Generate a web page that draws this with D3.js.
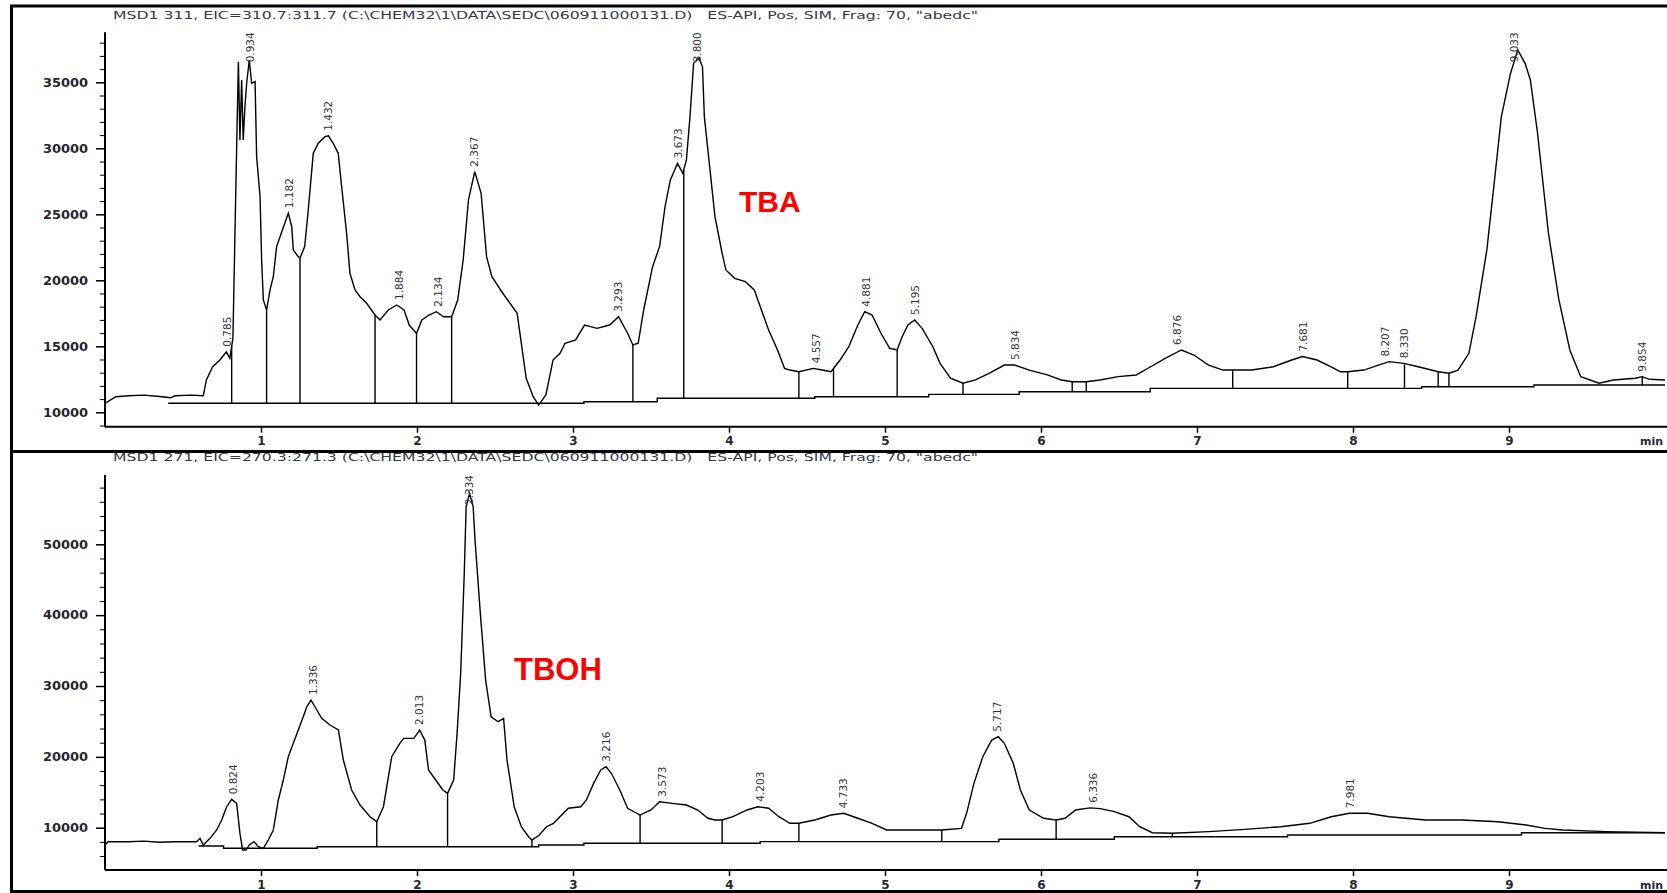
<!DOCTYPE html>
<html><head><meta charset="utf-8">
<script src="https://cdn.jsdelivr.net/npm/d3@7"></script>
<style>body{margin:0;background:#fff}svg{display:block}</style>
</head><body>
<svg id="c" width="1667" height="893"></svg>
<script>
// ---------------- DATA ----------------
const xTickValues = [1, 2, 3, 4, 5, 6, 7, 8, 9];
const xUnit = "min";

const tbaTitle = 'MSD1 311, EIC=310.7:311.7 (C:\\CHEM32\\1\\DATA\\SEDC\\060911000131.D)   ES-API, Pos, SIM, Frag: 70, "abedc"';
const tbohTitle = 'MSD1 271, EIC=270.3:271.3 (C:\\CHEM32\\1\\DATA\\SEDC\\060911000131.D)   ES-API, Pos, SIM, Frag: 70, "abedc"';
const tbaName = "TBA";
const tbohName = "TBOH";

const tbaMajorTicks = [10000, 15000, 20000, 25000, 30000, 35000];
const tbaMinorTicks = [9000,11000,12000,13000,14000,16000,17000,18000,19000,21000,22000,23000,24000,26000,27000,28000,29000,31000,32000,33000,34000,36000,37000,38000];
const tbohMajorTicks = [10000, 20000, 30000, 40000, 50000];
const tbohMinorTicks = [6000,8000,12000,14000,16000,18000,22000,24000,26000,28000,32000,34000,36000,38000,42000,44000,46000,48000,52000,54000,56000,58000];

// [time (min), abundance]
const tbaTrace = [
[0.00,10680],[0.07,11180],[0.15,11250],[0.25,11300],[0.35,11200],[0.42,11100],[0.45,11250],[0.55,11300],[0.63,11250],
[0.65,12450],[0.69,13450],[0.737,13960],[0.778,14590],[0.80,14090],[0.82,15600],[0.844,30120],[0.855,36560],[0.865,30630],
[0.876,35180],[0.886,30630],[0.897,33150],[0.908,34930],[0.925,36690],[0.94,34930],[0.962,35050],[0.972,29370],[0.994,26330],
[1.004,21540],[1.015,18510],[1.036,17750],[1.058,19270],[1.079,20270],[1.10,22550],[1.13,23560],[1.175,25080],[1.197,24060],
[1.207,22300],[1.239,21790],[1.25,21690],[1.28,22550],[1.303,25330],[1.335,29620],[1.367,30380],[1.41,30880],[1.432,30950],
[1.463,30380],[1.495,29620],[1.517,27090],[1.549,23560],[1.57,20530],[1.603,19270],[1.635,18760],[1.677,18260],[1.731,17370],
[1.763,16990],[1.816,17750],[1.87,18130],[1.917,17750],[1.95,16610],[1.997,15980],[2.031,16990],[2.077,17370],[2.124,17620],
[2.17,17240],[2.222,17240],[2.261,18510],[2.296,21540],[2.33,26090],[2.37,28230],[2.411,26590],[2.446,21790],[2.48,20270],
[2.55,19020],[2.596,18260],[2.642,17500],[2.70,12580],[2.745,11180],[2.78,10550],[2.826,11310],[2.872,13960],[2.917,14470],
[2.949,15230],[3.017,15480],[3.074,16610],[3.154,16360],[3.235,16610],[3.292,17240],[3.35,15990],[3.384,15100],[3.418,15230],
[3.453,17750],[3.51,21030],[3.555,22550],[3.59,25580],[3.624,27600],[3.67,28860],[3.704,28110],[3.727,29120],[3.75,32400],
[3.773,36440],[3.807,36820],[3.83,36190],[3.842,32400],[3.876,28610],[3.91,24820],[3.956,22050],[3.98,20780],[4.036,20150],
[4.105,19900],[4.162,19270],[4.208,17750],[4.254,16240],[4.311,14720],[4.356,13330],[4.391,13200],[4.448,13070],[4.54,13330],
[4.597,13200],[4.654,13070],[4.712,13960],[4.768,14970],[4.826,16610],[4.87,17620],[4.917,17370],[4.974,15990],[5.03,14850],
[5.078,14720],[5.11,15730],[5.147,16610],[5.19,16990],[5.238,16360],[5.307,14970],[5.353,13710],[5.42,12580],[5.50,12200],
[5.58,12450],[5.67,12960],[5.765,13580],[5.83,13580],[5.925,13200],[6.04,12830],[6.13,12450],[6.20,12320],[6.29,12320],
[6.378,12450],[6.494,12700],[6.61,12830],[6.703,13450],[6.796,14090],[6.90,14720],[6.98,14340],[7.074,13580],[7.167,13200],
[7.229,13200],[7.35,13200],[7.49,13450],[7.607,13960],[7.676,14220],[7.77,13960],[7.86,13450],[7.92,13070],[7.966,13070],
[8.07,13200],[8.163,13580],[8.232,13840],[8.325,13710],[8.418,13450],[8.546,13070],[8.615,12960],[8.673,13200],[8.743,14470],
[8.789,17240],[8.858,22300],[8.905,27350],[8.951,32400],[9.01,35690],[9.056,37450],[9.103,36440],[9.137,35180],[9.183,31140],
[9.253,23560],[9.32,18510],[9.39,14720],[9.46,12700],[9.577,12200],[9.67,12450],[9.81,12580],[9.854,12700],[9.90,12500],[10.0,12450]
];
const tbaBaseline = [
[0.405,10680],[3.07,10680],[3.07,10800],[3.54,10800],[3.54,11060],[4.55,11060],[4.55,11180],[5.28,11180],[5.28,11360],
[5.86,11360],[5.86,11560],[6.7,11560],[6.7,11810],[8.44,11810],[8.44,11940],[9.16,11940],[9.16,12070],[10.0,12070]
];
const tbaDrops = [0.812, 1.036, 1.25, 1.731, 1.997, 2.222, 3.384, 3.71, 4.448, 4.67, 5.078, 5.50, 6.20, 6.29, 7.229, 7.966, 8.33, 8.546, 8.615, 9.854];
const tbaPeakLabels = ["0.785","0.934","1.182","1.432","1.884","2.134","2.367","3.293","3.673","3.800","4.557","4.881","5.195","5.834","6.876","7.681","8.207","8.330","9.033","9.854"];

const tbohTrace = [
[0.00,7560],[0.02,8020],[0.15,8020],[0.25,8100],[0.35,7950],[0.45,8020],[0.587,8020],[0.609,8500],[0.63,7560],[0.673,8500],
[0.716,9680],[0.748,11090],[0.78,12960],[0.812,14000],[0.844,13440],[0.865,9210],[0.882,6850],[0.904,6850],[0.925,7560],
[0.955,8020],[0.983,7320],[1.015,7090],[1.047,8260],[1.079,9680],[1.111,13910],[1.143,16730],[1.175,20020],[1.207,21910],
[1.239,23790],[1.271,25660],[1.293,27070],[1.32,28020],[1.346,27070],[1.389,25430],[1.442,24490],[1.496,23790],[1.528,19550],
[1.581,15320],[1.635,13200],[1.699,11550],[1.742,10850],[1.785,12960],[1.838,20020],[1.89,21910],[1.914,22610],[1.98,22610],
[2.017,23790],[2.05,22370],[2.074,18140],[2.12,16730],[2.166,15320],[2.196,14850],[2.235,16730],[2.257,23320],[2.28,31790],
[2.303,45900],[2.315,55300],[2.337,57180],[2.36,55300],[2.372,50600],[2.406,40250],[2.44,30840],[2.475,25660],[2.52,24960],
[2.555,25430],[2.577,19550],[2.623,12960],[2.669,10140],[2.715,8730],[2.737,8260],[2.784,8970],[2.83,10140],[2.875,10620],
[2.97,12740],[3.05,12960],[3.086,13910],[3.132,16260],[3.178,18140],[3.212,18610],[3.246,17680],[3.30,15320],[3.35,12740],
[3.43,11790],[3.50,12500],[3.555,13670],[3.635,13440],[3.727,13200],[3.80,12500],[3.865,11330],[3.91,11090],[3.956,11090],
[4.025,11550],[4.116,12500],[4.185,12960],[4.254,12740],[4.32,11550],[4.39,10620],[4.448,10620],[4.55,11090],[4.654,11790],
[4.735,12030],[4.826,11330],[4.917,10620],[5.01,9680],[5.124,9680],[5.26,9680],[5.364,9680],[5.49,9910],[5.523,12030],
[5.57,16260],[5.627,20020],[5.684,22370],[5.726,22840],[5.765,21910],[5.822,19090],[5.868,15320],[5.925,12500],[6.017,11330],
[6.097,11090],[6.154,11330],[6.222,12500],[6.314,12800],[6.38,12700],[6.47,12260],[6.564,11550],[6.633,10140],[6.714,9290],
[6.842,9210],[7.074,9440],[7.306,9770],[7.537,10140],[7.723,10620],[7.86,11550],[7.978,12030],[8.094,12030],[8.232,11550],
[8.465,11090],[8.697,11090],[8.93,10850],[9.11,10380],[9.23,9910],[9.345,9680],[9.623,9440],[10.0,9290]
];
const tbohBaseline = [
[0.6,7410],[0.76,7410],[0.76,7090],[1.36,7090],[1.36,7320],[2.78,7320],[2.78,7560],[3.07,7560],[3.07,7800],[4.2,7800],
[4.2,8030],[5.73,8030],[5.73,8360],[6.47,8360],[6.47,8730],[7.58,8730],[7.58,8970],[9.08,8970],[9.08,9290],[10.0,9290]
];
const tbohDrops = [1.742, 2.196, 2.737, 3.43, 3.956, 4.448, 5.364, 6.097, 6.842];
const tbohPeakLabels = ["0.824","1.336","2.013","2.334","3.216","3.573","4.203","4.733","5.717","6.336","7.981"];

// ---------------- LAYOUT ----------------
const svg = d3.select("#c");
svg.append("rect").attr("width",1667).attr("height",893).attr("fill","#fff");
const FONT = "'DejaVu Sans', Arial, sans-serif";
const TXT = "#262630";

const panels = [
  {title: tbaTitle, name: tbaName, trace: tbaTrace, baseline: tbaBaseline, drops: tbaDrops, labels: tbaPeakLabels,
   major: tbaMajorTicks, minor: tbaMinorTicks, yDomain: [8909, 38788], top: 32.3, bottom: 426.7,
   titleY: 18.5, nameX: 739, nameY: 212, nameSize: 30},
  {title: tbohTitle, name: tbohName, trace: tbohTrace, baseline: tbohBaseline, drops: tbohDrops, labels: tbohPeakLabels,
   major: tbohMajorTicks, minor: tbohMinorTicks, yDomain: [4030, 59781], top: 475, bottom: 870,
   titleY: 460.5, nameX: 514, nameY: 680, nameSize: 31}
];

const x = d3.scaleLinear().domain([0, 10]).range([105, 1665]);

function interp(arr, t) {
  const i = d3.bisector(d => d[0]).left(arr, t);
  if (i <= 0) return arr[0][1];
  if (i >= arr.length) return arr[arr.length - 1][1];
  const a = arr[i - 1], b = arr[i];
  if (b[0] === a[0]) return b[1];
  return a[1] + (b[1] - a[1]) * (t - a[0]) / (b[0] - a[0]);
}

panels.forEach(p => {
  const y = d3.scaleLinear().domain(p.yDomain).range([p.bottom, p.top]);
  const g = svg.append("g");

  // title
  g.append("text").attr("x", 113).attr("y", p.titleY).text(p.title)
    .attr("font-family", FONT).attr("font-size", 11).attr("fill", "#33394a")
    .style("white-space", "pre")
    .attr("textLength", 865).attr("lengthAdjust", "spacingAndGlyphs");

  // y axis (major and minor)
  const yMajor = d3.axisLeft(y).tickValues(p.major).tickSize(9).tickSizeOuter(0).tickPadding(8).tickFormat(d3.format("d"));
  const yMinor = d3.axisLeft(y).tickValues(p.minor).tickSize(5).tickSizeOuter(0).tickFormat("");
  const ga = g.append("g").attr("transform", "translate(105,0)").call(yMajor);
  g.append("g").attr("transform", "translate(105,0)").call(yMinor).select(".domain").remove();
  ga.select(".domain").attr("stroke-width", 2).attr("d", `M0,${p.top}V${p.bottom}`);
  ga.selectAll(".tick line").attr("stroke-width", 1.5);
  ga.selectAll("text").attr("font-family", FONT).attr("font-size", 12).attr("font-weight", "bold")
    .attr("fill", TXT).attr("textLength", 45).attr("lengthAdjust", "spacingAndGlyphs");
  g.selectAll(".tick line").attr("stroke", "#000");

  // x axis
  const xAxis = d3.axisBottom(x).tickValues(xTickValues).tickSize(6).tickSizeOuter(0).tickFormat(d3.format("d"));
  const gx = g.append("g").attr("transform", `translate(0,${p.bottom})`).call(xAxis);
  gx.select(".domain").attr("stroke-width", 2).attr("d", `M${x(0)},0H1667`);
  gx.selectAll(".tick line").attr("stroke-width", 1.5);
  gx.selectAll("text").attr("y", 18.5).attr("dy", 0).attr("font-family", FONT).attr("font-size", 12)
    .attr("font-weight", "bold").attr("fill", TXT);
  g.append("text").attr("x", 1640).attr("y", p.bottom + 18.5).text(xUnit)
    .attr("font-family", FONT).attr("font-size", 11).attr("font-weight", "bold").attr("fill", TXT);

  const line = d3.line().x(d => x(d[0])).y(d => y(d[1]));

  // integration baseline
  g.append("path").datum(p.baseline).attr("d", line).attr("fill", "none")
    .attr("stroke", "#000").attr("stroke-width", 1.4);

  // drop lines
  g.selectAll(".drop").data(p.drops).join("line")
    .attr("x1", d => x(d)).attr("x2", d => x(d))
    .attr("y1", d => y(interp(p.trace, d))).attr("y2", d => y(interp(p.baseline, d)))
    .attr("stroke", "#000").attr("stroke-width", 1.4);

  // trace
  g.append("path").datum(p.trace).attr("d", line).attr("fill", "none")
    .attr("stroke", "#000").attr("stroke-width", 1.4).attr("stroke-linejoin", "miter");

  // peak labels (rotated)
  p.labels.forEach(s => {
    const t = +s;
    const near = p.trace.filter(d => Math.abs(d[0] - t) <= 0.03).map(d => d[1]);
    near.push(interp(p.trace, t));
    const py = y(d3.max(near));
    const txt = g.append("text").text(s)
      .attr("font-family", FONT).attr("font-size", 10.5).attr("fill", "#30333f")
      .attr("dy", "0.35em");
    const len = txt.node().getComputedTextLength();
    const ay = Math.max(py - 5, p.top + len);
    txt.attr("transform", `translate(${x(t)},${ay}) rotate(-90)`);
  });

  // compound name
  g.append("text").attr("x", p.nameX).attr("y", p.nameY).text(p.name)
    .attr("font-family", "'Liberation Sans', Arial, sans-serif").attr("font-weight", "bold")
    .attr("font-size", p.nameSize).attr("fill", "#ff0000");
});

// frame
const frame = svg.append("g").attr("stroke", "#000").attr("stroke-width", 3);
frame.append("line").attr("x1", 10).attr("x2", 1667).attr("y1", 6).attr("y2", 6);
frame.append("line").attr("x1", 11.5).attr("x2", 11.5).attr("y1", 5).attr("y2", 893);
frame.append("line").attr("x1", 10).attr("x2", 1667).attr("y1", 451.5).attr("y2", 451.5);
frame.append("line").attr("x1", 10).attr("x2", 1667).attr("y1", 891.5).attr("y2", 891.5);
</script>
</body></html>
